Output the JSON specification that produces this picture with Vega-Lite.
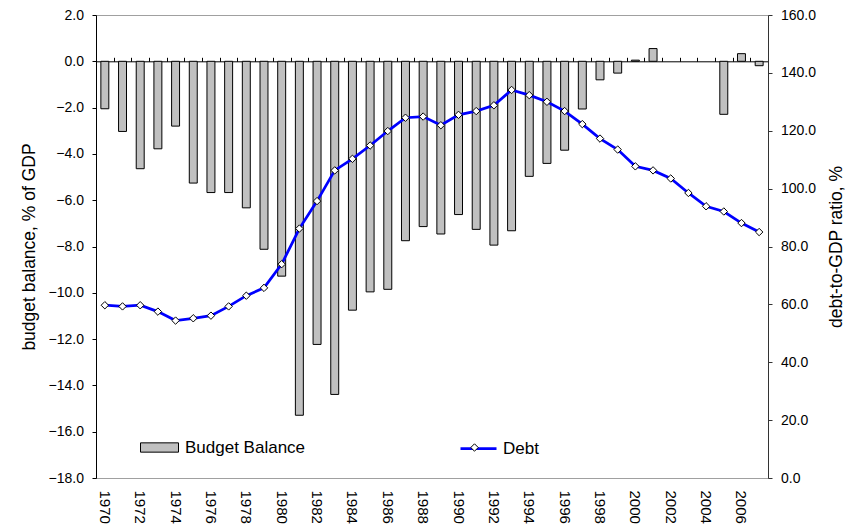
{
  "$schema": "https://vega.github.io/schema/vega-lite/v6.json",
  "autosize": "none",
  "width": 672,
  "height": 463,
  "padding": {"left": 96, "top": 15, "right": 89, "bottom": 46},
  "background": "white",
  "config": {
    "font": "Liberation Sans",
    "view": {"stroke": "#a0a0a0", "strokeWidth": 1},
    "axis": {"labelFont": "Liberation Sans", "labelFontSize": 14, "labelColor": "#000", "titleFont": "Liberation Sans", "titleFontSize": 17.5, "titleFontWeight": "normal", "titleColor": "#000", "grid": false},
    "legend": {"labelFont": "Liberation Sans", "labelFontSize": 17, "labelColor": "#000", "padding": 0}
  },
  "data": {"values": [
    {"year": 1970, "bal": -2.05, "debt": 59.7},
    {"year": 1971, "bal": -3.03, "debt": 59.3},
    {"year": 1972, "bal": -4.64, "debt": 59.7},
    {"year": 1973, "bal": -3.78, "debt": 57.5},
    {"year": 1974, "bal": -2.80, "debt": 54.4},
    {"year": 1975, "bal": -5.26, "debt": 55.2},
    {"year": 1976, "bal": -5.67, "debt": 56.1},
    {"year": 1977, "bal": -5.67, "debt": 59.3},
    {"year": 1978, "bal": -6.33, "debt": 63.0},
    {"year": 1979, "bal": -8.12, "debt": 65.7},
    {"year": 1980, "bal": -9.28, "debt": 73.9},
    {"year": 1981, "bal": -15.29, "debt": 86.2},
    {"year": 1982, "bal": -12.23, "debt": 95.7},
    {"year": 1983, "bal": -14.39, "debt": 106.3},
    {"year": 1984, "bal": -10.75, "debt": 110.3},
    {"year": 1985, "bal": -9.96, "debt": 114.9},
    {"year": 1986, "bal": -9.85, "debt": 119.9},
    {"year": 1987, "bal": -7.75, "debt": 124.5},
    {"year": 1988, "bal": -7.14, "debt": 124.9},
    {"year": 1989, "bal": -7.46, "debt": 121.9},
    {"year": 1990, "bal": -6.62, "debt": 125.5},
    {"year": 1991, "bal": -7.26, "debt": 126.8},
    {"year": 1992, "bal": -7.94, "debt": 128.8},
    {"year": 1993, "bal": -7.32, "debt": 134.1},
    {"year": 1994, "bal": -4.97, "debt": 132.3},
    {"year": 1995, "bal": -4.41, "debt": 130.0},
    {"year": 1996, "bal": -3.84, "debt": 126.8},
    {"year": 1997, "bal": -2.06, "debt": 122.3},
    {"year": 1998, "bal": -0.80, "debt": 117.3},
    {"year": 1999, "bal": -0.51, "debt": 113.5},
    {"year": 2000, "bal": 0.05, "debt": 107.7},
    {"year": 2001, "bal": 0.55, "debt": 106.3},
    {"year": 2002, "bal": null, "debt": 103.5},
    {"year": 2003, "bal": null, "debt": 98.5},
    {"year": 2004, "bal": null, "debt": 93.9},
    {"year": 2005, "bal": -2.29, "debt": 92.1},
    {"year": 2006, "bal": 0.33, "debt": 88.1},
    {"year": 2007, "bal": -0.19, "debt": 85.0}
  ]},
  "layer": [
    {
      "mark": {"type": "bar", "stroke": "#000", "strokeWidth": 1},
      "encoding": {
        "x": {"field": "year", "type": "ordinal", "scale": {"paddingInner": 0.55, "paddingOuter": 0.275},
          "axis": {"orient": "bottom", "title": null, "domain": false, "ticks": false, "tickSize": 0, "labelAngle": 90, "labelPadding": 12, "labelFontSize": 15, "labelExpr": "datum.value % 2 === 0 ? datum.label : ''"}},
        "y": {"field": "bal", "type": "quantitative", "scale": {"domain": [-18, 2], "nice": false, "zero": false},
          "axis": {"orient": "left", "title": "budget balance, % of GDP", "values": [-18, -16, -14, -12, -10, -8, -6, -4, -2, 0, 2], "format": ".1f", "domainColor": "#000", "tickColor": "#000", "tickSize": 4, "labelPadding": 8.5, "titleAngle": 270, "titleX": -67, "titleAlign": "center", "titleBaseline": "middle", "encode": {"ticks": {"update": {"x": {"value": 4}}}}}},
        "fill": {"datum": "Budget Balance", "scale": {"range": ["#c0c0c0"]},
          "legend": {"title": null, "orient": "none", "legendX": 44, "legendY": 413, "symbolType": "M-1,-0.245H1V0.245H-1Z", "symbolSize": 1444, "symbolStrokeColor": "#000", "symbolStrokeWidth": 1, "symbolOpacity": 1, "labelOffset": 6}}
      }
    },
    {
      "mark": {"type": "line", "strokeWidth": 2.75},
      "encoding": {
        "x": {"field": "year", "type": "ordinal",
          "axis": {"orient": "top", "offset": -46.3, "title": null, "labels": false, "domain": true, "domainColor": "#000", "domainWidth": 1, "ticks": true, "tickColor": "#000", "tickSize": 4, "tickOffset": -8.84, "encode": {"ticks": {"update": {"y": {"value": 4}}}}}},
        "y": {"field": "debt", "type": "quantitative", "scale": {"domain": [0, 160], "nice": false},
          "axis": {"orient": "right", "title": "debt-to-GDP ratio, %", "values": [0, 20, 40, 60, 80, 100, 120, 140, 160], "format": ".1f", "domainColor": "#333", "tickColor": "#333", "tickSize": 4, "labelPadding": 8.5, "titleAngle": 270, "titleX": 68, "titleAlign": "center", "titleBaseline": "middle", "encode": {"ticks": {"update": {"x": {"value": -4}}}}}},
        "stroke": {"datum": "Debt", "scale": {"range": ["#0000ff"]},
          "legend": {"title": null, "orient": "none", "legendX": 363, "legendY": 414, "symbolType": "stroke", "symbolSize": 1296, "symbolStrokeWidth": 2.75, "labelOffset": 5}}
      }
    },
    {
      "mark": {"type": "point", "shape": "diamond", "fill": "#ffffff", "fillOpacity": 1, "strokeWidth": 1, "size": 55, "opacity": 1},
      "encoding": {
        "x": {"field": "year", "type": "ordinal", "axis": null},
        "y": {"field": "debt", "type": "quantitative", "scale": {"domain": [0, 160], "nice": false}, "axis": null},
        "stroke": {"datum": "marker", "scale": {"range": ["#000000"]},
          "legend": {"title": null, "orient": "none", "legendX": 370, "legendY": 424, "symbolType": "diamond", "symbolFillColor": "#ffffff", "symbolStrokeWidth": 1, "symbolSize": 55, "symbolOpacity": 1, "labelExpr": "''"}}
      }
    }
  ],
  "resolve": {"scale": {"y": "independent", "stroke": "independent"}, "axis": {"x": "independent", "y": "independent"}, "legend": {"stroke": "independent"}}
}
